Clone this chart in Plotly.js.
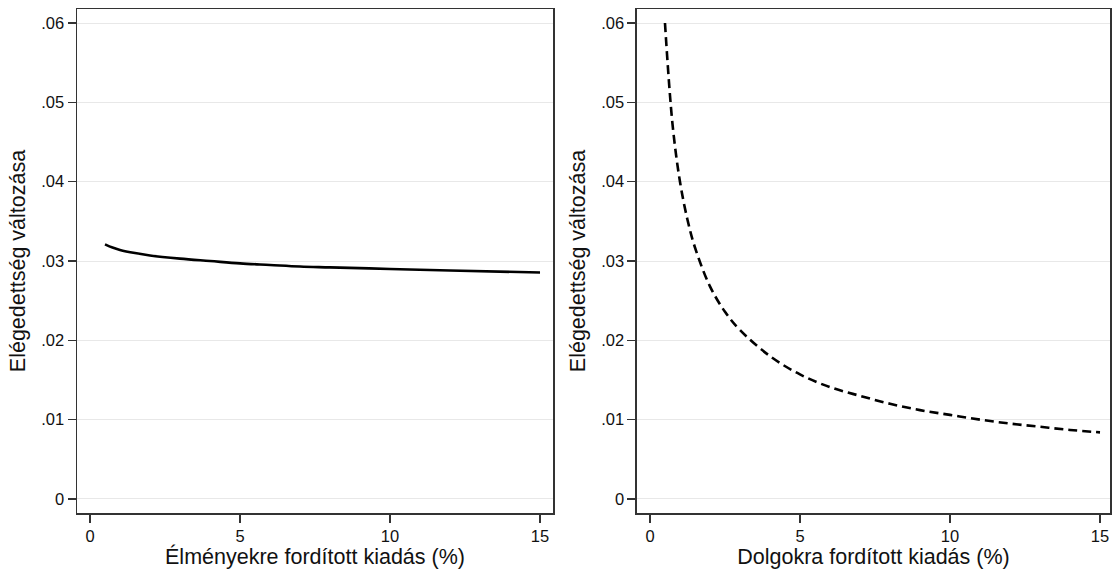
<!DOCTYPE html>
<html>
<head>
<meta charset="utf-8">
<script src="https://cdn.plot.ly/plotly-3.0.1.min.js"></script>
<style>html,body{margin:0;padding:0;background:#fff;}#chart{width:1112px;height:569px;}</style>
</head>
<body>
<div id="chart"></div>
<script>
// Left panel: experiences
const xExp = [0.5, 0.75, 1, 1.5, 2, 3, 4, 5, 6, 7, 8, 10, 12, 15];
const yExp = [0.0321, 0.0317, 0.0314, 0.0310, 0.0307, 0.0303, 0.0300, 0.0297, 0.0295, 0.0293, 0.0292, 0.0290, 0.0288, 0.02855];
// Right panel: things
const xThings = [0.5, 0.75, 1, 1.25, 1.5, 2, 2.5, 3, 4, 5, 6, 7, 8, 9, 10, 11, 12, 13, 14, 15];
const yThings = [0.0600, 0.0473, 0.0400, 0.0352, 0.0317, 0.0268, 0.0236, 0.0213, 0.0180, 0.0157, 0.0141, 0.0130, 0.0120, 0.0112, 0.0106, 0.0100, 0.0095, 0.0091, 0.0087, 0.0084];
const yTickVals = [0, 0.01, 0.02, 0.03, 0.04, 0.05, 0.06];
const yTickText = ["0", ".01", ".02", ".03", ".04", ".05", ".06"];
const xTickVals = [0, 5, 10, 15];
const yTitle = "Elégedettség változása";
const xTitleLeft = "Élményekre fordított kiadás (%)";
const xTitleRight = "Dolgokra fordított kiadás (%)";

const font = "Liberation Sans, Arial, sans-serif";
const traces = [
  {x: xExp, y: yExp, type: 'scatter', mode: 'lines', xaxis: 'x', yaxis: 'y',
   line: {color: '#000', width: 2.6, shape: 'spline'}, hoverinfo: 'skip'},
  {x: xThings, y: yThings, type: 'scatter', mode: 'lines', xaxis: 'x2', yaxis: 'y2',
   line: {color: '#000', width: 2.6, dash: '9px,5px', shape: 'spline'}, hoverinfo: 'skip'}
];
function xa(domain, range, title, anchor) {
  return {domain: domain, range: range, anchor: anchor, tickvals: xTickVals, ticks: 'outside', ticklen: 8,
    tickcolor: '#333', tickwidth: 1.3, showline: true, linecolor: '#333', linewidth: 1.5, mirror: true,
    showgrid: false, zeroline: false, tickfont: {family: font, size: 16.5, color: '#111'},
    title: {text: title, font: {family: font, size: 21.5, color: '#111'}, standoff: 5}};
}
function ya(range, anchor) {
  return {domain: [0, 1], range: range, anchor: anchor, tickvals: yTickVals, ticktext: yTickText,
    ticks: 'outside', ticklen: 8, tickcolor: '#333', tickwidth: 1.3, showline: true, linecolor: '#333',
    linewidth: 1.5, mirror: true, showgrid: true, gridcolor: '#e8e8e8', gridwidth: 1, zeroline: false,
    tickfont: {family: font, size: 16.5, color: '#111'},
    title: {text: yTitle, font: {family: font, size: 21.5, color: '#111'}, standoff: 9}};
}
const yr = [-0.00177, 0.06177];
const layout = {
  width: 1112, height: 569, paper_bgcolor: '#fff', plot_bgcolor: '#fff', showlegend: false,
  margin: {l: 77, r: 2, t: 9, b: 56},
  xaxis: xa([0, 0.4608], [-0.433, 15.433], xTitleLeft, 'y'),
  yaxis: ya(yr, 'x'),
  xaxis2: xa([0.5421, 1], [-0.433, 15.333], xTitleRight, 'y2'),
  yaxis2: ya(yr, 'x2')
};
Plotly.newPlot('chart', traces, layout, {displayModeBar: false, staticPlot: true});
</script>
</body>
</html>
